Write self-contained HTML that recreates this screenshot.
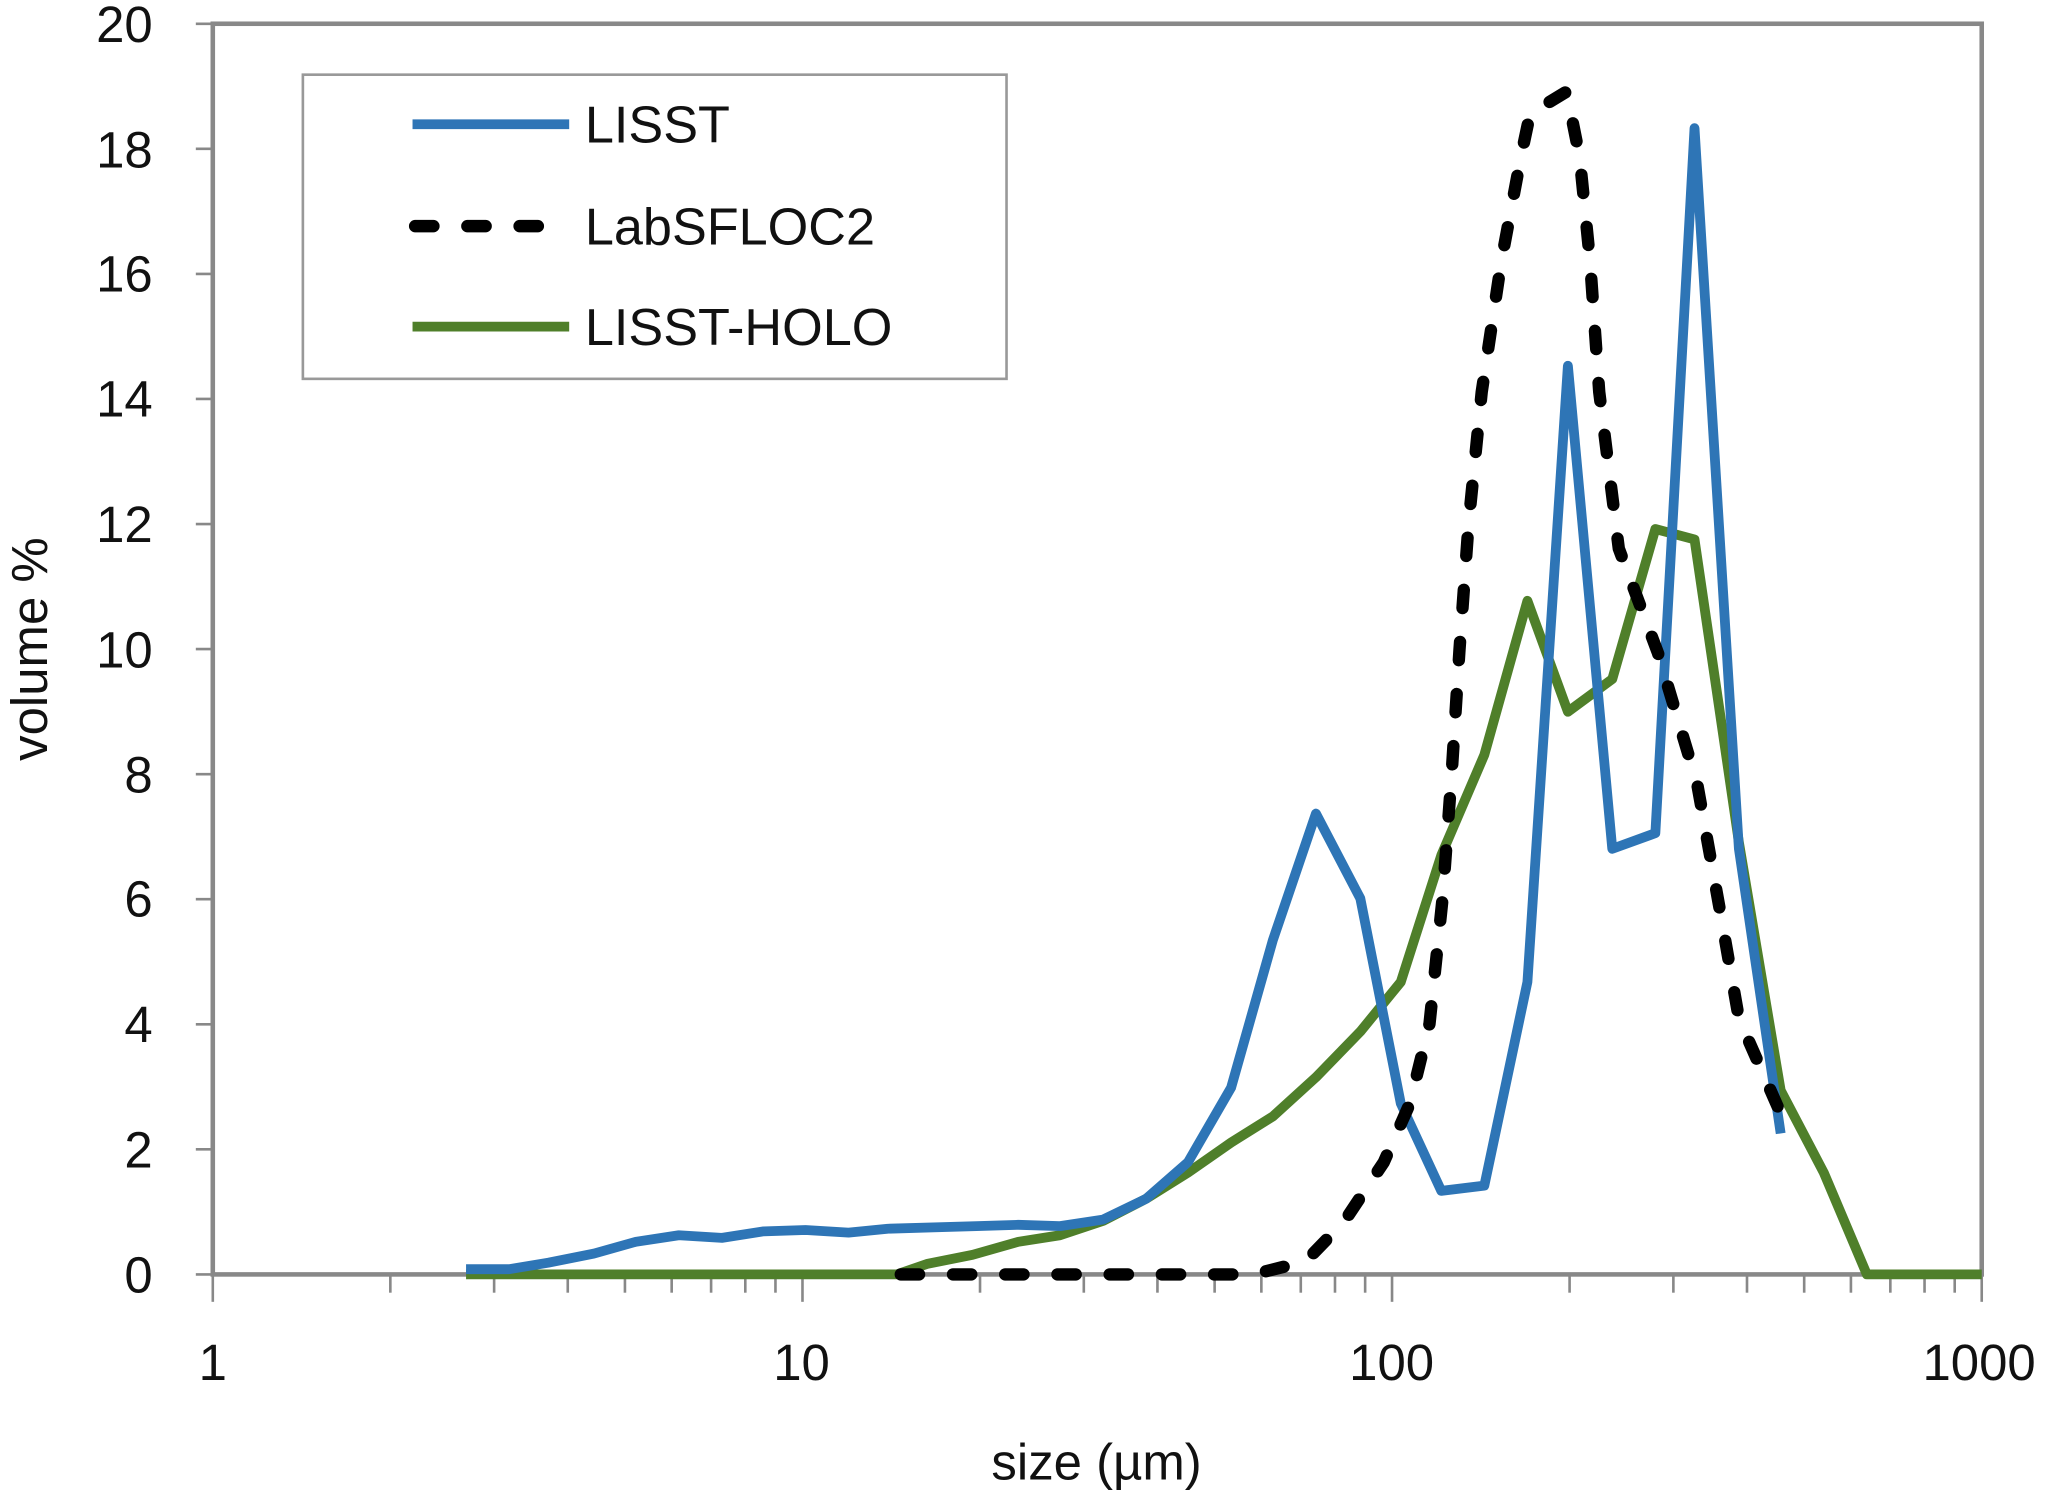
<!DOCTYPE html>
<html><head><meta charset="utf-8"><style>
html,body{margin:0;padding:0;background:#fff;}
svg{display:block;}
text{font-family:"Liberation Sans",sans-serif;fill:#111;}
</style></head><body>
<svg width="2047" height="1494" viewBox="0 0 1568 1144" xmlns="http://www.w3.org/2000/svg">
<rect width="1568" height="1144" fill="#fff"/>
<rect x="163" y="18" width="1355" height="958" fill="none" stroke="#888" stroke-width="3.5"/>
<g stroke="#888" stroke-width="2">
<line x1="150" y1="18" x2="163" y2="18"/><line x1="150" y1="113.8" x2="163" y2="113.8"/>
<line x1="150" y1="209.6" x2="163" y2="209.6"/><line x1="150" y1="305.4" x2="163" y2="305.4"/>
<line x1="150" y1="401.2" x2="163" y2="401.2"/><line x1="150" y1="497" x2="163" y2="497"/>
<line x1="150" y1="592.8" x2="163" y2="592.8"/><line x1="150" y1="688.6" x2="163" y2="688.6"/>
<line x1="150" y1="784.4" x2="163" y2="784.4"/><line x1="150" y1="880.2" x2="163" y2="880.2"/>
<line x1="150" y1="976" x2="163" y2="976"/>
<line x1="163" y1="976" x2="163" y2="997"/><line x1="614.7" y1="976" x2="614.7" y2="997"/>
<line x1="1066.3" y1="976" x2="1066.3" y2="997"/><line x1="1518" y1="976" x2="1518" y2="997"/>
<line x1="299" y1="976" x2="299" y2="990"/><line x1="378.5" y1="976" x2="378.5" y2="990"/><line x1="434.9" y1="976" x2="434.9" y2="990"/><line x1="478.7" y1="976" x2="478.7" y2="990"/><line x1="514.5" y1="976" x2="514.5" y2="990"/><line x1="544.7" y1="976" x2="544.7" y2="990"/><line x1="570.9" y1="976" x2="570.9" y2="990"/><line x1="594" y1="976" x2="594" y2="990"/>
<line x1="750.7" y1="976" x2="750.7" y2="990"/><line x1="830.2" y1="976" x2="830.2" y2="990"/><line x1="886.6" y1="976" x2="886.6" y2="990"/><line x1="930.4" y1="976" x2="930.4" y2="990"/><line x1="966.2" y1="976" x2="966.2" y2="990"/><line x1="996.4" y1="976" x2="996.4" y2="990"/><line x1="1022.6" y1="976" x2="1022.6" y2="990"/><line x1="1045.7" y1="976" x2="1045.7" y2="990"/>
<line x1="1202.3" y1="976" x2="1202.3" y2="990"/><line x1="1281.8" y1="976" x2="1281.8" y2="990"/><line x1="1338.2" y1="976" x2="1338.2" y2="990"/><line x1="1382" y1="976" x2="1382" y2="990"/><line x1="1417.8" y1="976" x2="1417.8" y2="990"/><line x1="1448" y1="976" x2="1448" y2="990"/><line x1="1474.2" y1="976" x2="1474.2" y2="990"/><line x1="1497.3" y1="976" x2="1497.3" y2="990"/>
</g>
<g font-size="39" text-anchor="end">
<text x="117" y="32">20</text><text x="117" y="128">18</text><text x="117" y="223">16</text>
<text x="117" y="319">14</text><text x="117" y="415">12</text><text x="117" y="511">10</text>
<text x="117" y="607">8</text><text x="117" y="702">6</text><text x="117" y="798">4</text>
<text x="117" y="894">2</text><text x="117" y="990">0</text>
</g>
<g font-size="39" text-anchor="middle">
<text x="163" y="1057">1</text><text x="614" y="1057">10</text><text x="1066" y="1057">100</text><text x="1516" y="1057">1000</text>
<text x="840" y="1133">size (µm)</text>
</g>
<text font-size="39" text-anchor="middle" transform="translate(36,497) rotate(-90)">volume %</text>
<g fill="none" stroke-linejoin="round">
<polyline stroke="#4f7f2a" stroke-width="7.5" points="357,976 687,976 710,968 745,961 780,951 812,946 845,935 878,918 910,898 943,875 975,855 1008,825 1042,790 1073,752 1104,655 1137,578 1170,460 1201,545 1235,520 1268,405 1298,413 1332,645 1364,835 1397,898 1430,976 1518,976"/>
<polyline stroke="#2e75b6" stroke-width="7.5" points="357,972 390,972 420,967 455,960 487,951 520,946 553,948 585,943 617,942 650,944 680,941 715,940 748,939 780,938 812,939 845,934 878,918 910,890 943,833 975,720 1008,623 1042,688 1073,845 1104,912 1137,908 1170,752 1201,280 1235,650 1268,638 1298,98 1332,650 1364,868"/>
<polyline stroke="#000" stroke-width="9.5" stroke-linecap="round" stroke-dasharray="14 26" points="690,976 960,976 1000,966 1030,935 1060,890 1080,845 1095,784 1105,688 1112,592 1118,497 1125,400 1135,300 1150,200 1165,120 1172,87 1200,70 1210,120 1218,200 1225,300 1240,420 1270,500 1300,600 1318,700 1332,780 1365,855"/>
</g>
<rect x="232" y="57" width="539" height="233" fill="#fff" stroke="#999" stroke-width="2"/>
<line x1="316" y1="95" x2="436" y2="95" stroke="#2e75b6" stroke-width="7.5"/>
<line x1="318" y1="173" x2="436" y2="173" stroke="#000" stroke-width="9.5" stroke-linecap="round" stroke-dasharray="14 26"/>
<line x1="316" y1="250" x2="436" y2="250" stroke="#4f7f2a" stroke-width="7.5"/>
<g font-size="40"><text x="448" y="109">LISST</text><text x="448" y="187">LabSFLOC2</text><text x="448" y="264">LISST-HOLO</text></g>
</svg>
</body></html>
